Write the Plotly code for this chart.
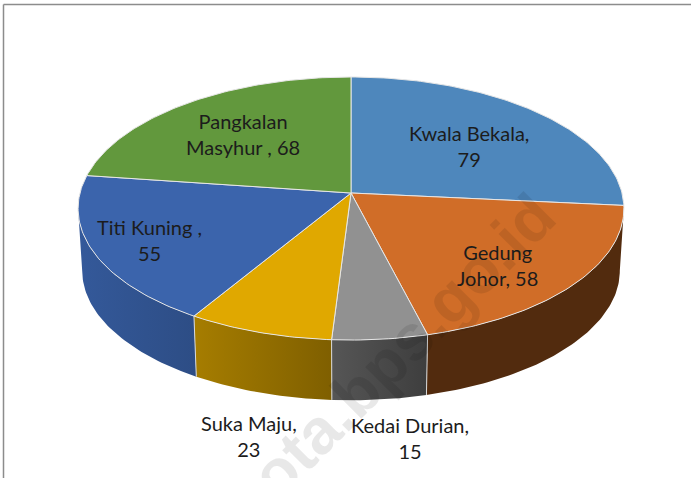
import numpy as np
import plotly.graph_objects as go

categories = ["Kwala Bekala", "Gedung Johor", "Kedai Durian", "Suka Maju", "Titi Kuning", "Pangkalan Masyhur"]
values = [79, 58, 15, 23, 55, 68]
label_lines = [
    ("Kwala Bekala,", "79"),
    ("Gedung", "Johor, 58"),
    ("Kedai Durian,", "15"),
    ("Suka Maju,", "23"),
    ("Titi Kuning ,", "55"),
    ("Pangkalan", "Masyhur , 68"),
]
label_pos = [(469, 146), (497, 265), (410, 438), (249, 436), (149, 240), (243, 134)]
top_colors = ["#4E87BC", "#D06D28", "#919191", "#E0A800", "#3B64AC", "#62983D"]
# left colour, right colour of each wall's gradient
wall_colors = [
    ("#2E5475", "#2E5475"),
    ("#522B0E", "#522B0E"),
    ("#565656", "#3E3E3E"),
    ("#A67D00", "#7F5F00"),
    ("#34599A", "#2D4D85"),
    ("#3C5E25", "#3C5E25"),
]

CX, CY, A, B, K = 351, 193, 271, 129.7, 0.118
S, CYB = 0.985, 255.4
# the wall's silhouette meets the disc where the projected x is extreme
TANGENT = np.arccos(-K)


def project(theta, bottom=False):
    u, v = np.sin(theta), np.cos(theta)
    d = 1 + K * v
    if bottom:
        return CX + S * A * u / d, CYB - S * B * v / d
    return CX + A * u / d, CY - B * v / d


fig = go.Figure()
edges = np.deg2rad(np.concatenate([[0], np.cumsum(values)]) / sum(values) * 360)


def arc(a, b):
    return np.linspace(a, b, max(int(abs(b - a) * 60), 2))


# side walls, painted first
for i in range(len(values)):
    vis_a, vis_b = max(edges[i], TANGENT), min(edges[i + 1], 2 * np.pi - TANGENT)
    if vis_a >= vis_b:
        continue
    t = arc(vis_a, vis_b)
    xt, yt = project(t)
    xb, yb = project(t[::-1], True)
    c0, c1 = wall_colors[i]
    fig.add_trace(go.Scatter(
        x=np.r_[xt, xb, xt[0]], y=np.r_[yt, yb, yt[0]], mode="lines", fill="toself",
        line=dict(width=0, color=c0), hoverinfo="skip", showlegend=False,
        fillgradient=dict(type="horizontal", colorscale=[[0, c0], [1, c1]]),
    ))

# wall separators
for i in range(1, len(values)):
    if TANGENT < edges[i] < 2 * np.pi - TANGENT:
        x0, y0 = project(edges[i])
        x1, y1 = project(edges[i], True)
        fig.add_trace(go.Scatter(x=[x0, x1], y=[y0, y1], mode="lines", hoverinfo="skip", showlegend=False,
                                 line=dict(color="#D9D9D9", width=1)))

# top faces
for i in range(len(values)):
    t = arc(edges[i], edges[i + 1])
    x, y = project(t)
    fig.add_trace(go.Scatter(
        x=np.r_[CX, x, CX], y=np.r_[CY, y, CY], mode="lines", fill="toself", fillcolor=top_colors[i],
        line=dict(color="#E6E6E6", width=1), name=categories[i], hoverinfo="name", showlegend=False,
    ))

for lines, (px, py) in zip(label_lines, label_pos):
    fig.add_annotation(x=px, y=py, text="<br>".join(lines), showarrow=False, xanchor="center", yanchor="middle",
                       font=dict(family="Lato", size=20, color="#1C1C1C"))

fig.add_annotation(x=403, y=346, text="ota.bps.go.id", showarrow=False, textangle=-45,
                   font=dict(family="Liberation Sans", size=64, color="rgba(0,0,0,0.09)", weight="bold"))

# picture frame: top and left rules
fig.add_shape(type="line", x0=3.5, x1=691, y0=4.5, y1=4.5, line=dict(color="#8C8C8C", width=1.5))
fig.add_shape(type="line", x0=3.5, x1=3.5, y0=4.5, y1=478, line=dict(color="#8C8C8C", width=1.5))

fig.update_xaxes(range=[0, 691], visible=False, fixedrange=True)
fig.update_yaxes(range=[478, 0], visible=False, fixedrange=True)
fig.update_layout(width=691, height=478, margin=dict(l=0, r=0, t=0, b=0), paper_bgcolor="white",
                  plot_bgcolor="white", showlegend=False)
fig.write_html("out.html", config={"displayModeBar": False},
               post_script="document.body.style.margin='0';document.documentElement.style.overflow='hidden';")
